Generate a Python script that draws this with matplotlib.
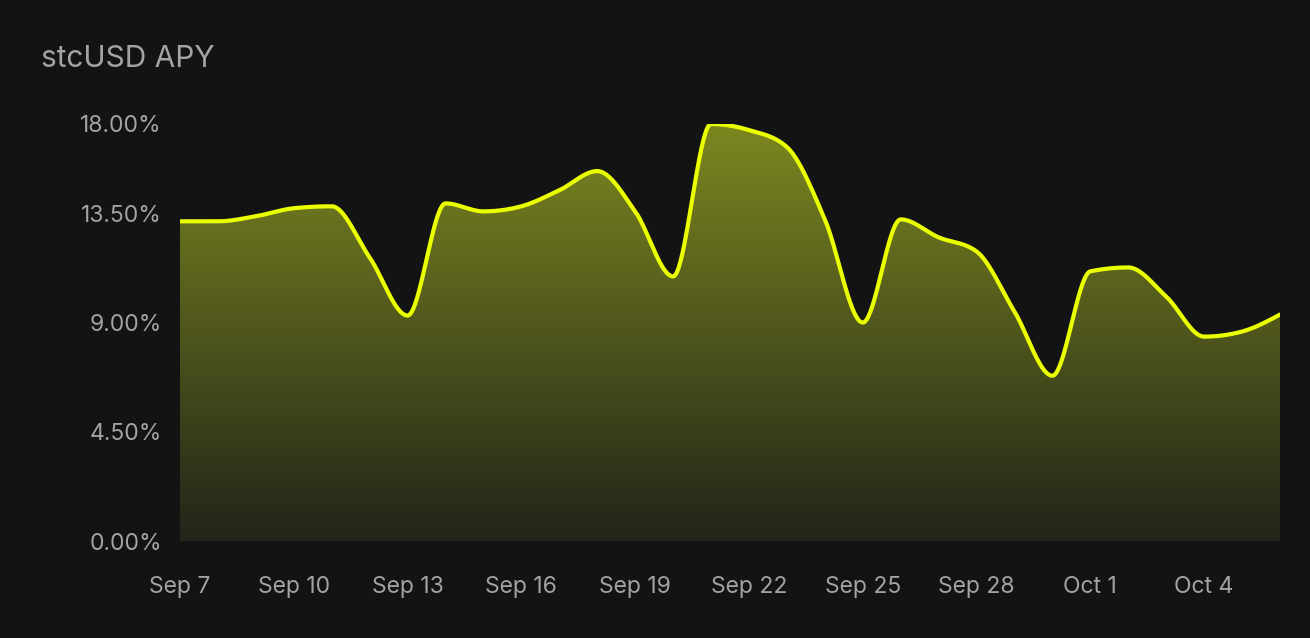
import numpy as np
import matplotlib
matplotlib.use("Agg")
import matplotlib.pyplot as plt

# daily APY readings, Sep 7 .. Oct 6
days = np.arange(30)
apy = [13.17, 13.17, 13.38, 13.71, 13.79, 11.68, 9.29, 13.91, 13.58, 13.79,
       14.45, 15.24, 13.58, 10.90, 17.18, 16.93, 16.23, 13.25, 9.00, 13.25,
       12.51, 11.93, 9.45, 6.81, 11.11, 11.27, 10.07, 8.42, 8.63, 9.33]

tick_days = [0, 3, 6, 9, 12, 15, 18, 21, 24, 27]
tick_labels = ["Sep 7", "Sep 10", "Sep 13", "Sep 16", "Sep 19",
               "Sep 22", "Sep 25", "Sep 28", "Oct 1", "Oct 4"]
y_tick_labels = ["0.00%", "4.50%", "9.00%", "13.50%", "18.00%"]

BG = "#131313"
TXT = "#a3a3a3"
LINE = "#eaff00"


def monotone(x, y, n=40):
    """Monotone cubic (like d3 curveMonotoneX) sampled for drawing."""
    x = np.asarray(x, float)
    y = np.asarray(y, float)
    h = np.diff(x)
    s = np.diff(y) / h
    t = np.zeros_like(y)
    for i in range(1, len(y) - 1):
        p = (s[i - 1] * h[i] + s[i] * h[i - 1]) / (h[i - 1] + h[i])
        t[i] = (np.sign(s[i - 1]) + np.sign(s[i])) * min(abs(s[i - 1]), abs(s[i]), 0.5 * abs(p))
    t[0] = (3 * s[0] - t[1]) / 2
    t[-1] = (3 * s[-1] - t[-2]) / 2
    xs, ys = [], []
    for i in range(len(h)):
        u = np.linspace(0, 1, n, endpoint=False)
        h00 = 2 * u**3 - 3 * u**2 + 1
        h10 = u**3 - 2 * u**2 + u
        h01 = -2 * u**3 + 3 * u**2
        h11 = u**3 - u**2
        xs.append(x[i] + u * h[i])
        ys.append(h00 * y[i] + h10 * h[i] * t[i] + h01 * y[i + 1] + h11 * h[i] * t[i + 1])
    xs.append([x[-1]])
    ys.append([y[-1]])
    return np.concatenate(xs), np.concatenate(ys)


fig = plt.figure(figsize=(13.1, 6.38), dpi=100, facecolor=BG)
ax = fig.add_axes([180 / 1310, 1 - 541 / 638, 1100 / 1310, (541 - 124) / 638])
ax.set_facecolor(BG)

xs, ys = monotone(days, apy)
ymax = max(apy)

# gradient fill under the curve
poly = ax.fill_between(xs, ys, 0, color="none", lw=0)
top = np.array([0x7c, 0x87, 0x20]) / 255
bot = np.array([0x22, 0x24, 0x19]) / 255
g = np.linspace(1, 0, 256)[:, None, None]
grad = bot + (top - bot) * g
grad = np.repeat(grad, 2, axis=1)
im = ax.imshow(grad, extent=[days[0], days[-1], 0, ymax], aspect="auto",
               origin="upper", zorder=1)
path = poly.get_paths()[0]
im.set_clip_path(path, transform=ax.transData)

ax.plot(xs, ys, color=LINE, lw=3, solid_capstyle="round", zorder=3)

ax.set_xlim(days[0], days[-1])
ax.set_ylim(0, ymax)
ax.set_xticks(tick_days)
ax.set_xticklabels(tick_labels)
ax.set_yticks([0, 4.5, 9, 13.5, ymax])
ax.set_yticklabels(y_tick_labels)

for sp in ax.spines.values():
    sp.set_visible(False)
ax.tick_params(axis="both", length=0, colors=TXT, labelsize=16.5)
ax.tick_params(axis="x", pad=25)
ax.tick_params(axis="y", pad=13)
for lab in ax.get_xticklabels() + ax.get_yticklabels():
    lab.set_fontfamily("Inter")

fig.text(41 / 1310, 1 - 59 / 638, "stcUSD APY", color=TXT, fontsize=21.5,
         fontfamily="Inter", va="center", ha="left")

fig.savefig("out.png", dpi=100, facecolor=BG)
